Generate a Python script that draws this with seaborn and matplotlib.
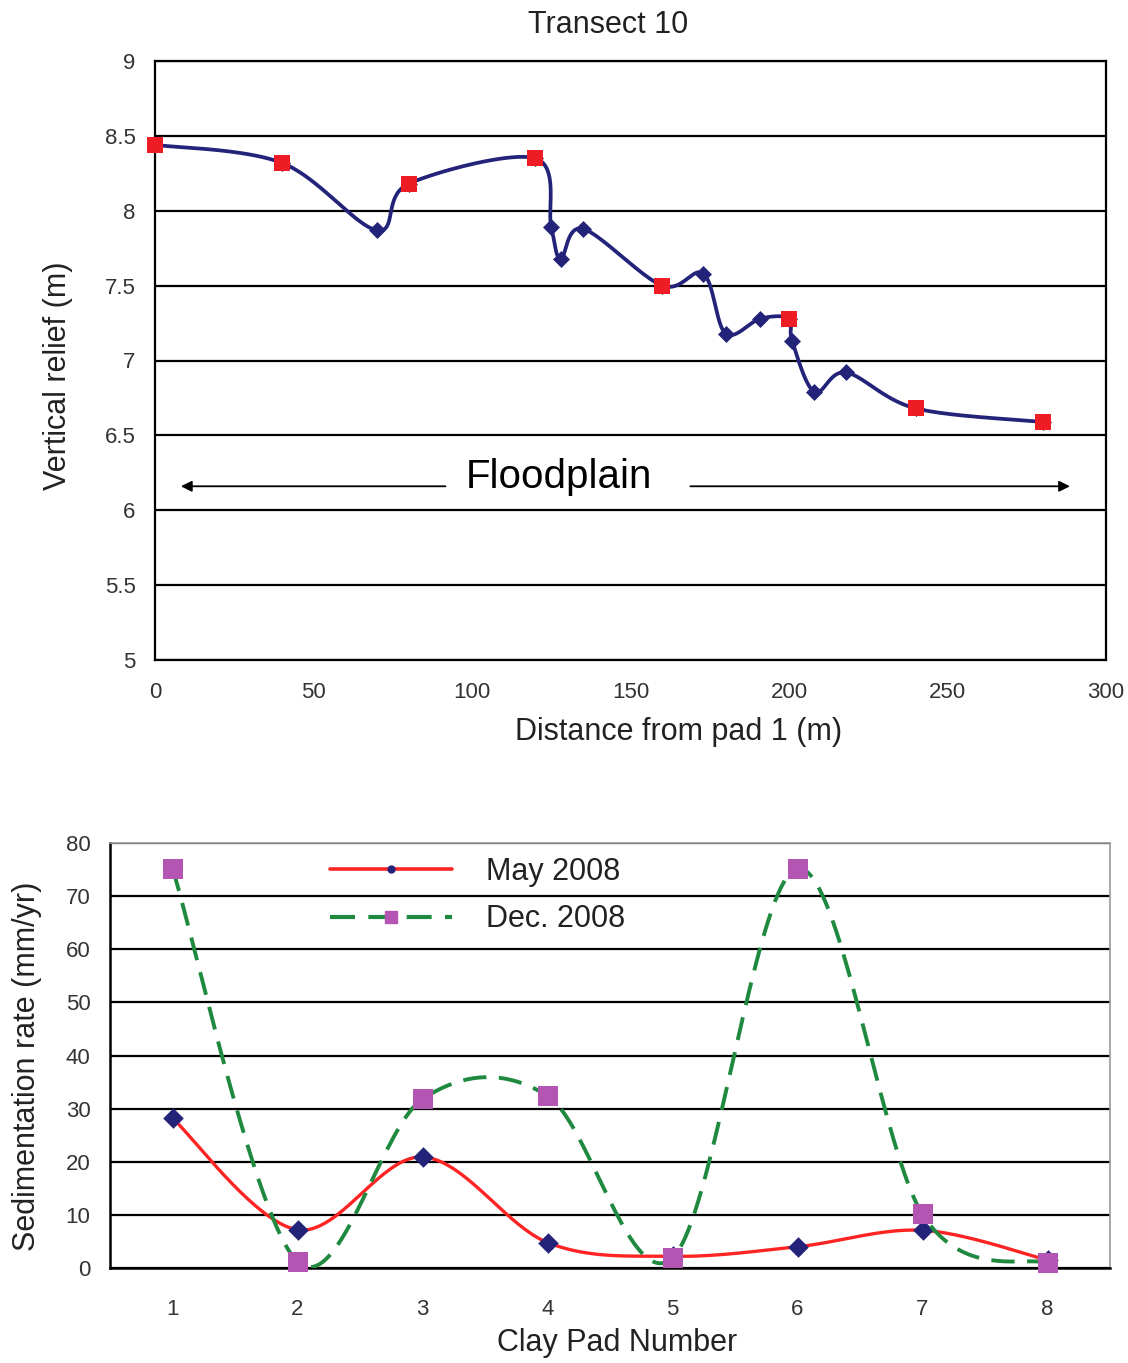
import numpy as np
import pandas as pd
import matplotlib
matplotlib.use("Agg")
import matplotlib.pyplot as plt
from matplotlib.lines import Line2D
import seaborn as sns

# ---------------- data ----------------
# Top: Transect 10 survey profile
dist_m = [0, 40, 70, 80, 120, 125, 128, 135, 160, 173, 180, 191, 200, 201, 208, 218, 240, 280]
relief_m = [8.44, 8.32, 7.87, 8.18, 8.35, 7.89, 7.68, 7.88, 7.50, 7.58, 7.18, 7.28, 7.28, 7.13, 6.79, 6.92, 6.68, 6.59]
# clay pad positions on the transect
pad_dist = [0, 40, 80, 120, 160, 200, 240, 280]
pad_relief = [8.44, 8.32, 8.18, 8.35, 7.50, 7.28, 6.68, 6.59]

# Bottom: sedimentation rate by clay pad
pads = [1, 2, 3, 4, 5, 6, 7, 8]
may_2008 = [28.2, 7.2, 20.9, 4.8, 2.2, 4.0, 7.1, 1.5]
dec_2008 = [75.2, 1.2, 31.8, 32.4, 1.9, 75.2, 10.1, 0.9]

x_ticks_top = [0, 50, 100, 150, 200, 250, 300]
y_ticks_top = [5, 5.5, 6, 6.5, 7, 7.5, 8, 8.5, 9]
y_tick_labels_top = ["5", "5.5", "6", "6.5", "7", "7.5", "8", "8.5", "9"]
y_ticks_bot = [0, 10, 20, 30, 40, 50, 60, 70, 80]


def smooth_path(xs, ys, n=40):
    """Excel-style smoothed line (Bezier through the given points)."""
    P = np.column_stack([xs, ys]).astype(float)
    ext = np.vstack([P[0], P, P[-1]])
    t = np.linspace(0, 1, n)[:, None]
    out = []
    for i in range(len(P) - 1):
        p0, p1, p2, p3 = ext[i], ext[i + 1], ext[i + 2], ext[i + 3]
        c1 = p1 + (p2 - p0) / 6.0
        c2 = p2 - (p3 - p1) / 6.0
        seg = (1 - t) ** 3 * p1 + 3 * (1 - t) ** 2 * t * c1 + 3 * (1 - t) * t ** 2 * c2 + t ** 3 * p2
        out.append(seg if i == 0 else seg[1:])
    S = np.vstack(out)
    return pd.DataFrame({"x": S[:, 0], "y": S[:, 1]})


sns.set_style("white")
plt.rcParams["font.family"] = ["Liberation Sans", "DejaVu Sans"]

fig = plt.figure(figsize=(11.28, 13.63), dpi=100)
W, H = 1128, 1363

# ---------------- top chart ----------------
ax1 = fig.add_axes([155 / W, 1 - 660 / H, (1106 - 155) / W, (660 - 61) / H])
navy = "#23237a"
red = "#ee1c24"
sm = smooth_path(dist_m, relief_m, 40)
sns.lineplot(data=sm, x="x", y="y", sort=False, estimator=None, ax=ax1,
             color=navy, lw=2.7, zorder=3)
sns.scatterplot(x=dist_m, y=relief_m, ax=ax1, marker="D", s=75, color=navy,
                linewidth=0, zorder=4, clip_on=False)
sns.scatterplot(x=pad_dist, y=pad_relief, ax=ax1, marker="s", s=125, color=red,
                linewidth=0, zorder=5, clip_on=False)

ax1.set_xlim(0, 300)
ax1.set_ylim(5, 9)
ax1.set_xticks(x_ticks_top)
ax1.set_yticks(y_ticks_top)
ax1.set_yticklabels(y_tick_labels_top)
ax1.yaxis.grid(True, color="black", lw=1.6)
ax1.set_axisbelow(True)
for sp in ax1.spines.values():
    sp.set_visible(True)
    sp.set_color("black")
    sp.set_linewidth(1.6)
ax1.tick_params(axis="both", which="major", direction="out", length=5, width=1.5,
                colors="black", labelcolor="#333333", labelsize=16)
ax1.tick_params(axis="y", pad=9)
ax1.tick_params(axis="x", pad=11)
ax1.set_xlabel("Distance from pad 1 (m)", fontsize=22, color="#222222")
ax1.set_ylabel("Vertical relief (m)", fontsize=22, color="#222222")
ax1.xaxis.label.set_va("center")
ax1.yaxis.label.set_va("center")
ax1.xaxis.set_label_coords(0.5 + (678 - 630) / 951, (660 - 732) / 599)
ax1.yaxis.set_label_coords((58 - 155) / 951, 0.5 - (376 - 360.5) / 599)

ax1.text(127.5, 6.22, "Floodplain", fontsize=29, ha="center", va="center", color="black")
ax1.annotate("", xy=(7.3, 6.16), xytext=(92.5, 6.16),
             arrowprops=dict(arrowstyle="-|>", color="black", lw=1.3, mutation_scale=16))
ax1.annotate("", xy=(289.5, 6.16), xytext=(168, 6.16),
             arrowprops=dict(arrowstyle="-|>", color="black", lw=1.3, mutation_scale=16))

fig.text(608 / W, 1 - 25 / H, "Transect 10", fontsize=22, ha="center", va="center",
         color="#222222")

# ---------------- bottom chart ----------------
ax2 = fig.add_axes([110 / W, 1 - 1268 / H, (1110 - 110) / W, (1268 - 843) / H])
red2 = "#ff2424"
green = "#1f8a3f"
magenta = "#b455b4"
sm_may = smooth_path(pads, may_2008, 40)
sm_dec = smooth_path(pads, dec_2008, 40)
sns.lineplot(data=sm_may, x="x", y="y", sort=False, estimator=None, ax=ax2,
             color=red2, lw=2.4, zorder=3)
sns.scatterplot(x=pads, y=may_2008, ax=ax2, marker="D", s=110, color=navy,
                linewidth=0, zorder=4, clip_on=False)
sns.lineplot(data=sm_dec, x="x", y="y", sort=False, estimator=None, ax=ax2,
             color=green, lw=2.8, zorder=5)
ax2.lines[-1].set_dashes([6, 3.2])
sns.scatterplot(x=pads, y=dec_2008, ax=ax2, marker="s", s=190, color=magenta,
                linewidth=0, zorder=6, clip_on=False)

ax2.set_xlim(0.5, 8.5)
ax2.set_ylim(0, 80)
ax2.set_yticks(y_ticks_bot)
ax2.set_xticks(pads)
ax2.set_xticks(np.arange(0.5, 9.0, 1.0), minor=True)
ax2.yaxis.grid(True, color="black", lw=1.6)
ax2.set_axisbelow(True)
for name, sp in ax2.spines.items():
    sp.set_visible(True)
    if name in ("left", "bottom"):
        sp.set_color("black")
        sp.set_linewidth(1.8)
    else:
        sp.set_color("#9a9a9a")
        sp.set_linewidth(1.2)
ax2.tick_params(axis="y", which="major", direction="out", length=6, width=1.6,
                colors="black", labelcolor="#333333", labelsize=16, pad=8)
ax2.tick_params(axis="x", which="major", length=0, labelcolor="#333333",
                labelsize=16, pad=22)
ax2.tick_params(axis="x", which="minor", direction="out", length=7, width=1.6,
                colors="black")
ax2.set_xlabel("Clay Pad Number", fontsize=22, color="#222222")
ax2.set_ylabel("Sedimentation rate (mm/yr)", fontsize=22, color="#222222")
ax2.xaxis.label.set_va("center")
ax2.yaxis.label.set_va("center")
ax2.xaxis.set_label_coords((617 - 110) / 1000, (1268 - 1343) / 425)
ax2.yaxis.set_label_coords((27 - 110) / 1000, 0.5 - (1066 - 1055.5) / 425)

h_may = Line2D([], [], color=red2, lw=2.6, marker="o", markersize=5,
               markerfacecolor=navy, markeredgecolor=navy)
h_dec = Line2D([], [], color=green, lw=3.0, dashes=[6, 3.2], marker="s", markersize=8,
               markerfacecolor=magenta, markeredgecolor=magenta)
ax2.legend([h_may, h_dec], ["May 2008", "Dec. 2008"], loc="upper left",
           bbox_to_anchor=(0.22, 0.968), frameon=False, fontsize=22,
           handlelength=4.0, handletextpad=1.1, labelspacing=0.58,
           borderpad=0, borderaxespad=0, labelcolor="#222222")

fig.savefig("out.png", dpi=100, facecolor="white")
